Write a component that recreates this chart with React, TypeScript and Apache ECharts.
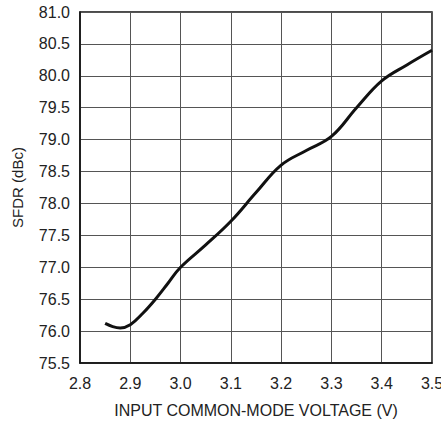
import React, { useEffect, useRef } from "react";
import * as echarts from "echarts";

const xValues = [2.85, 2.865, 2.88, 2.9, 2.925, 2.95, 2.975, 3.0, 3.05, 3.1, 3.15, 3.2, 3.25, 3.3, 3.35, 3.4, 3.45, 3.5];
const sfdrValues = [76.12, 76.07, 76.05, 76.1, 76.28, 76.5, 76.75, 77.0, 77.35, 77.72, 78.17, 78.6, 78.83, 79.05, 79.5, 79.92, 80.17, 80.4];

const xTitle = "INPUT COMMON-MODE VOLTAGE (V)";
const yTitle = "SFDR (dBc)";

const FONT = "'Liberation Sans', Arial, sans-serif";

export default function App() {
  const ref = useRef<HTMLDivElement>(null);
  useEffect(() => {
    if (!ref.current) return;
    const chart = echarts.init(ref.current, undefined, { renderer: "svg" });
    chart.setOption({
      animation: false,
      backgroundColor: "#fff",
      grid: {
        left: 80, right: 9, top: 12, bottom: 58,
        outerBoundsMode: "none", containLabel: false,
        show: true, borderColor: "#111", borderWidth: 1.5, backgroundColor: "transparent",
      },
      xAxis: {
        type: "value",
        min: 2.8,
        max: 3.5,
        interval: 0.1,
        name: xTitle,
        nameLocation: "middle",
        nameGap: 39,
        nameTextStyle: { fontFamily: FONT, fontSize: 16, color: "#222" },
        axisLine: { show: true, lineStyle: { color: "#111", width: 1.5 } },
        axisTick: { show: false },
        axisLabel: { fontFamily: FONT, fontSize: 16, color: "#222", margin: 12, formatter: (v: number) => v.toFixed(1) },
        splitLine: { show: true, lineStyle: { color: "#555", width: 1 } },
      },
      yAxis: {
        type: "value",
        min: 75.5,
        max: 81.0,
        interval: 0.5,
        name: yTitle,
        nameLocation: "middle",
        nameGap: 55,
        nameTextStyle: { fontFamily: FONT, fontSize: 15, color: "#222" },
        axisLine: { show: true, lineStyle: { color: "#111", width: 1.5 } },
        axisTick: { show: false },
        axisLabel: { fontFamily: FONT, fontSize: 16, color: "#222", margin: 10, formatter: (v: number) => v.toFixed(1) },
        splitLine: { show: true, lineStyle: { color: "#555", width: 1 } },
      },
      series: [
        {
          type: "line",
          data: xValues.map((x, i) => [x, sfdrValues[i]]),
          smooth: 0.4,
          showSymbol: false,
          lineStyle: { color: "#111", width: 3 },
        },
      ],
    });
    return () => chart.dispose();
  }, []);
  return <div ref={ref} style={{ position: "fixed", left: 0, top: 0, width: 441, height: 421 }} />;
}
